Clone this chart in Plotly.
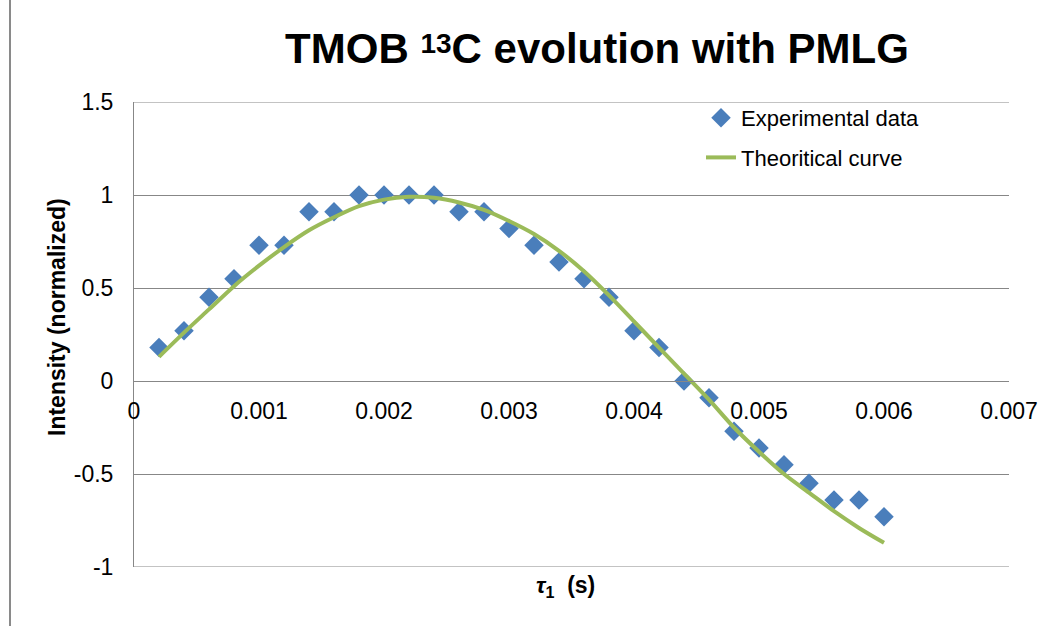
import plotly.graph_objects as go

# ---- data ----
tau_exp = [0.0002, 0.0004, 0.0006, 0.0008, 0.0010, 0.0012, 0.0014, 0.0016, 0.0018, 0.0020,
           0.0022, 0.0024, 0.0026, 0.0028, 0.0030, 0.0032, 0.0034, 0.0036, 0.0038, 0.0040,
           0.0042, 0.0044, 0.0046, 0.0048, 0.0050, 0.0052, 0.0054, 0.0056, 0.0058, 0.0060]
intensity_exp = [0.18, 0.27, 0.45, 0.55, 0.73, 0.73, 0.91, 0.91, 1.0, 1.0,
                 1.0, 1.0, 0.91, 0.91, 0.82, 0.73, 0.64, 0.55, 0.45, 0.27,
                 0.18, 0.0, -0.09, -0.27, -0.36, -0.45, -0.55, -0.64, -0.64, -0.73]

tau_theory = [0.0002, 0.0004, 0.0006, 0.0008, 0.0010, 0.0012, 0.0014, 0.0016, 0.0018, 0.0020,
              0.0022, 0.0024, 0.0026, 0.0028, 0.0030, 0.0032, 0.0034, 0.0036, 0.0038, 0.0040,
              0.0042, 0.0044, 0.0046, 0.0048, 0.0050, 0.0052, 0.0054, 0.0056, 0.0058, 0.0060]
intensity_theory = [0.13, 0.26, 0.385, 0.51, 0.62, 0.72, 0.81, 0.88, 0.94, 0.975,
                    0.99, 0.985, 0.96, 0.92, 0.86, 0.79, 0.70, 0.59, 0.46, 0.32,
                    0.18, 0.04, -0.10, -0.25, -0.38, -0.50, -0.60, -0.70, -0.79, -0.87]

x_ticks = [0, 0.001, 0.002, 0.003, 0.004, 0.005, 0.006, 0.007]
x_tick_labels = ["0", "0.001", "0.002", "0.003", "0.004", "0.005", "0.006", "0.007"]
y_ticks = [-1, -0.5, 0, 0.5, 1, 1.5]
y_tick_labels = ["-1", "-0.5", "0", "0.5", "1", "1.5"]

title_text = ('TMOB <span style="font-size:28px;baseline-shift:10px">13</span>C evolution with PMLG')
x_title = "<b><i>τ</i><sub>1</sub>  (s)</b>"
y_title = "<b>Intensity (normalized)</b>"

FONT = "Liberation Sans, Arial, sans-serif"
GRID = "#878787"
W, H = 1057, 626
ML, MR, MT, MB = 134, 48, 102, 59
PW, PH = W - ML - MR, H - MT - MB


def px_to_paper_x(px):
    return (px - ML) / PW


def px_to_paper_y(py):
    return (H - MB - py) / PH


fig = go.Figure()
fig.add_trace(go.Scatter(
    x=tau_exp, y=intensity_exp, mode="markers", name="Experimental data",
    legendgroup="a",
    marker=dict(symbol="diamond", size=15, color="#4A7EBB", line=dict(width=0)),
))
fig.add_trace(go.Scatter(
    x=tau_theory, y=intensity_theory, mode="lines", name="Theoritical curve",
    legendgroup="b",
    line=dict(color="#9BBB59", width=4, shape="spline", smoothing=0.8),
))

fig.update_layout(
    width=W, height=H,
    margin=dict(l=ML, r=MR, t=MT, b=MB),
    paper_bgcolor="white", plot_bgcolor="white",
    font=dict(family=FONT, color="#000000"),
    title=dict(text=title_text, x=597 / W, xanchor="center", xref="container",
               y=1 - 48 / H, yanchor="middle", yref="container",
               font=dict(family=FONT, size=42, color="#000000", weight="bold")),
    showlegend=True,
    legend=dict(x=px_to_paper_x(701), y=px_to_paper_y(97), xanchor="left", yanchor="top",
                font=dict(family=FONT, size=22, color="#000000"),
                bgcolor="rgba(0,0,0,0)", tracegroupgap=8),
    xaxis=dict(range=[0, 0.007], tickvals=x_ticks, ticktext=x_tick_labels,
               showgrid=False, zeroline=False, showline=True, linecolor=GRID, linewidth=1,
               anchor="free", position=0.4,
               ticks="outside", ticklen=9, tickcolor="rgba(0,0,0,0)",
               tickfont=dict(family=FONT, size=23, color="#000000")),
    yaxis=dict(range=[-1, 1.5], tickvals=y_ticks, ticktext=y_tick_labels,
               showgrid=True, gridcolor=GRID, gridwidth=1, zeroline=False,
               showline=True, linecolor=GRID, linewidth=1,
               ticks="outside", ticklen=15, tickcolor="rgba(0,0,0,0)",
               tickfont=dict(family=FONT, size=23, color="#000000")),
    annotations=[
        dict(text=y_title, x=px_to_paper_x(57), y=px_to_paper_y(317), xref="paper", yref="paper",
             textangle=-90, showarrow=False, xanchor="center", yanchor="middle",
             font=dict(family=FONT, size=23, color="#000000")),
        dict(text=x_title, x=px_to_paper_x(565), y=px_to_paper_y(586), xref="paper", yref="paper",
             showarrow=False, xanchor="center", yanchor="middle",
             font=dict(family=FONT, size=23, color="#000000")),
    ],
    shapes=[
        dict(type="line", xref="paper", yref="paper",
             x0=px_to_paper_x(10), x1=px_to_paper_x(10),
             y0=px_to_paper_y(-5), y1=px_to_paper_y(H + 5),
             line=dict(color="#8a8a8a", width=2)),
        dict(type="line", xref="paper", yref="y", x0=0, x1=1, y0=1.5, y1=1.5,
             line=dict(color=GRID, width=1), layer="below"),
        dict(type="line", xref="paper", yref="y", x0=0, x1=1, y0=-1, y1=-1,
             line=dict(color=GRID, width=1), layer="below"),
    ],
)

fig.write_html("out.html")
